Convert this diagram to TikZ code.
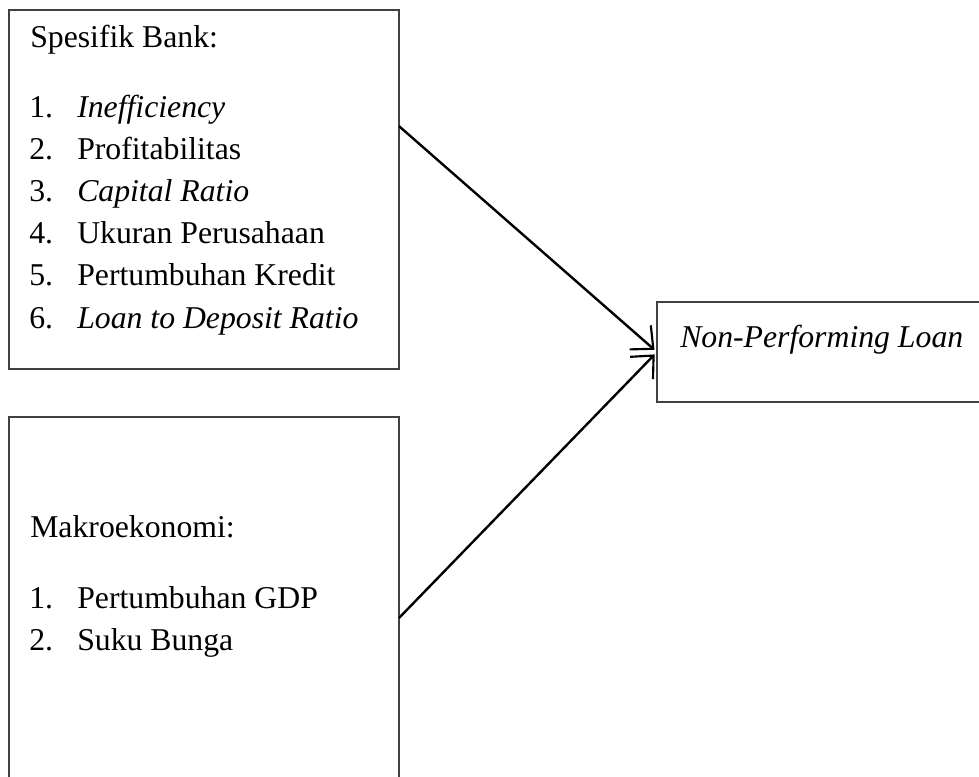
\documentclass[tikz,border=0pt]{standalone}
\usepackage{fontspec}
\setmainfont{Liberation Serif}
\usepackage{tikz}
\usetikzlibrary{arrows.meta}
\usetikzlibrary{positioning}
\newdimen\px
\px=0.75pt
\tikzset{
  kotak/.style={draw=black!75, line width=0.8pt, inner sep=0pt, outer sep=0pt, anchor=north west},
  teks/.style={anchor=base west, inner sep=0pt, font=\fontsize{23.8}{31.65}\selectfont},
  panah/.style={-{Straight Barb[length=13pt, width=24pt, line width=1.6pt]}, line width=1.8pt, shorten >=2.5pt},
}

\begin{document}
\begin{tikzpicture}[x=\px, y=-\px]
  \useasboundingbox (0,0) rectangle (979,776);
  \clip (0,0) rectangle (979,776);
  % kotak variabel
  \node[kotak, minimum width=390*\px, minimum height=359*\px] (bank) at (9,10) {};
  \node[kotak, minimum width=390*\px, minimum height=402*\px] (makro) at (9,417) {};
  \node[kotak, minimum width=400*\px, minimum height=100*\px] (npl) at (657,302) {};
  % isi kotak
  \node[teks] (judulbank) at (30,47) {Spesifik Bank:};
  \foreach \t [count=\i] in {\textit{Inefficiency}, Profitabilitas, \textit{Capital Ratio},
      Ukuran Perusahaan, Pertumbuhan Kredit, \textit{Loan to Deposit Ratio}} {
    \node[teks] (nobank\i) at (29,{117+42.2*(\i-1)}) {\i.};
    \node[teks] (bank\i) at (77,{117+42.2*(\i-1)}) {\t};
  }
  \node[teks] (judulmakro) at (30,537) {Makroekonomi:};
  \foreach \t [count=\i] in {Pertumbuhan GDP, Suku Bunga} {
    \node[teks] (nomakro\i) at (29,{608+42*(\i-1)}) {\i.};
    \node[teks] (makro\i) at (77,{608+42*(\i-1)}) {\t};
  }
  \node[teks] (judulnpl) at (680,347) {\textit{Non-Performing Loan}};
  % panah
  \draw[panah] (bank.18) -- (npl.west);
  \draw[panah] (makro.east) -- (npl.west);
\end{tikzpicture}
\end{document}
